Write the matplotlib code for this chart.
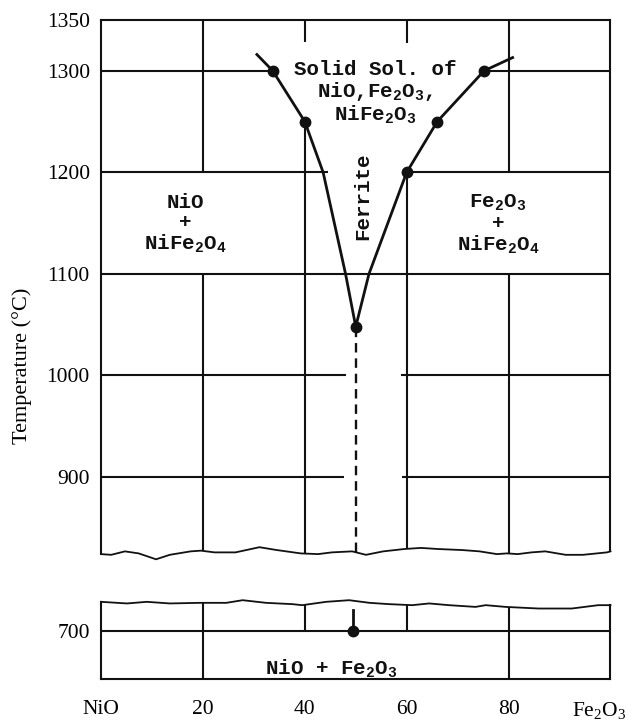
import numpy as np
import matplotlib.pyplot as plt
from matplotlib.transforms import ScaledTranslation

plt.rcParams['font.family'] = 'Liberation Serif'
plt.rcParams['mathtext.default'] = 'regular'

# phase boundaries (mol % Fe2O3, deg C)
left_x = [30.6, 33.7, 40, 43.6, 48.0, 50]
left_t = [1316, 1300, 1250, 1200, 1100, 1048]
right_x = [50, 52.6, 60, 66.0, 75.2, 80.8]
right_t = [1048, 1100, 1200, 1250, 1300, 1313]
dots_x = [33.7, 40, 50, 60, 66.0, 75.2]
dots_t = [1300, 1250, 1048, 1200, 1250, 1300]
eutectoid_x = 50
eutectoid_t = 700

# grid segments of the upper panel
hline_t = [1300, 1300, 1200, 1200, 1100, 1000, 1000, 900, 900]
hline_x0 = [0, 75.2, 0, 60, 0, 0, 58.8, 0, 59.0]
hline_x1 = [33.7, 100, 44.6, 100, 100, 48.1, 100, 47.7, 100]
vline_x = [20, 20, 40, 40, 60, 60, 80, 80]
vline_top = [1350, 1100, 1350, 1250, 1350, 1200, 1350, 1100]
vline_bot = [1200, np.nan, 1328.6, np.nan, 1327, np.nan, 1200, np.nan]  # nan -> down to the break

# grid of the lower panel
low_vline_x = [20, 40, 60, 80]
low_vline_bot = [np.nan, 700, 700, np.nan]

# hand drawn break lines
brk_up_x = [0, 2.0, 4.7, 7.4, 10.8, 13.5, 17.6, 19.6, 22.3, 26.4, 31.1, 34.5, 39.2, 42.6,
            45.3, 49.3, 52.0, 55.4, 59.5, 62.8, 66.2, 70.9, 74.3, 77.7, 79.7, 81.8, 84.5,
            87.2, 91.2, 94.6, 99.3, 100]
brk_up_t = [824.1, 823.4, 826.8, 824.8, 819.0, 823.4, 826.8, 827.5, 825.8, 825.8, 830.9,
            828.1, 824.8, 824.1, 825.8, 826.8, 823.4, 826.8, 829.1, 830.2, 829.1, 828.1,
            826.8, 824.1, 824.8, 824.1, 825.8, 826.8, 823.4, 823.4, 825.8, 826.8]
brk_low_x = [0, 5.1, 9.0, 13.5, 19.4, 24.6, 27.8, 32.4, 37.6, 39.5, 44.2, 48.7, 52.7, 56.6,
             61.1, 64.4, 68.3, 73.5, 75.5, 79.4, 85.9, 92.4, 97.6, 100]
brk_low_t = [728.4, 726.8, 728.4, 726.8, 727.4, 727.4, 730.0, 727.4, 726.1, 725.1, 728.4,
             730.0, 727.4, 726.1, 725.1, 726.8, 725.1, 723.4, 725.1, 723.4, 721.8, 721.8,
             725.1, 725.1]

x_ticks = [0, 20, 40, 60, 80, 100]
x_labels = ['NiO', '20', '40', '60', '80', 'Fe$_2$O$_3$']
y_ticks_up = [900, 1000, 1100, 1200, 1300, 1350]
y_ticks_low = [700]

ink = '#111111'
lw = 1.5
mono = dict(family='Liberation Mono', weight='bold', fontsize=15, color=ink)

fig = plt.figure(figsize=(6.34, 7.24), dpi=100)
ax1 = fig.add_axes([0.1593, 0.2254, 0.8036, 0.7470])
ax2 = fig.add_axes([0.1593, 0.0622, 0.8036, 0.1095])

ax1.set_xlim(0, 100)
ax1.set_ylim(817.5, 1350)
ax2.set_xlim(0, 100)
ax2.set_ylim(652.4, 730.5)

# upper panel grid
for t, a, b in zip(hline_t, hline_x0, hline_x1):
    ax1.plot([a, b], [t, t], color=ink, lw=lw, solid_capstyle='butt')
for x, top, bot in zip(vline_x, vline_top, vline_bot):
    if np.isnan(bot):
        bot = np.interp(x, brk_up_x, brk_up_t)
    ax1.plot([x, x], [bot, top], color=ink, lw=lw, solid_capstyle='butt')

# phase boundaries
ax1.plot(left_x, left_t, color=ink, lw=2.0)
ax1.plot(right_x, right_t, color=ink, lw=2.0)
ax1.plot(dots_x, dots_t, 'o', color=ink, ms=7.5)
ax1.plot([eutectoid_x, eutectoid_x], [np.interp(eutectoid_x, brk_up_x, brk_up_t), dots_t[2]],
         color=ink, lw=1.7, ls=(0, (4, 2.5)))

# break line and frame
ax1.plot(brk_up_x, brk_up_t, color=ink, lw=1.3, clip_on=False)
ax1.spines['bottom'].set_visible(False)
ax1.spines['left'].set_bounds(brk_up_t[0], 1350)
ax1.spines['right'].set_bounds(brk_up_t[-1], 1350)
for s in ax1.spines.values():
    s.set_linewidth(lw)
    s.set_color(ink)

ax1.text(53.8, 1278, 'Solid Sol. of\nNiO,Fe$_2$O$_3$,\nNiFe$_2$O$_3$', ha='center', va='center',
         multialignment='center', linespacing=1.05, **mono)
ax1.text(16.5, 1149, 'NiO\n+\nNiFe$_2$O$_4$', ha='center', va='center',
         multialignment='center', linespacing=1.05, **mono)
ax1.text(77.9, 1149, 'Fe$_2$O$_3$\n+\nNiFe$_2$O$_4$', ha='center', va='center',
         multialignment='center', linespacing=1.05, **mono)
ax1.text(51.4, 1176, 'Ferrite', rotation=90, ha='center', va='center', **mono)

ax1.set_xticks([])
ax1.set_yticks(y_ticks_up)
ax1.tick_params(axis='y', length=0, pad=8, labelsize=15.5)

# lower panel
ax2.axhline(eutectoid_t, color=ink, lw=lw)
for x, bot in zip(low_vline_x, low_vline_bot):
    if np.isnan(bot):
        bot = 652.4
    ax2.plot([x, x], [bot, np.interp(x, brk_low_x, brk_low_t)], color=ink, lw=lw,
             solid_capstyle='butt')
ax2.plot([eutectoid_x - 0.5, eutectoid_x - 0.5], [eutectoid_t, 720], color=ink, lw=2.0)
ax2.plot([eutectoid_x - 0.5], [eutectoid_t], 'o', color=ink, ms=7.5)
ax2.plot(brk_low_x, brk_low_t, color=ink, lw=1.3, clip_on=False)
ax2.spines['top'].set_visible(False)
ax2.spines['left'].set_bounds(652.4, brk_low_t[0])
ax2.spines['right'].set_bounds(652.4, brk_low_t[-1])
for s in ax2.spines.values():
    s.set_linewidth(lw)
    s.set_color(ink)

ax2.text(45.1, 662, 'NiO + Fe$_2$O$_3$', ha='center', va='center', **mono)

ax2.set_yticks(y_ticks_low)
ax2.set_xticks(x_ticks)
ax2.set_xticklabels(x_labels)
ax2.tick_params(axis='y', length=0, pad=8, labelsize=15.5)
ax2.tick_params(axis='x', length=0, pad=15, labelsize=15.5)

# the end-member label sits a little inside the frame edge
last = ax2.get_xticklabels()[-1]
last.set_transform(last.get_transform() + ScaledTranslation(-0.11, 0, fig.dpi_scale_trans))

fig.text(22 / 634, 1 - 366 / 724, 'Temperature (°C)', rotation=90, ha='center', va='center',
         fontsize=16)

fig.savefig('out.png', dpi=100, facecolor='white')
